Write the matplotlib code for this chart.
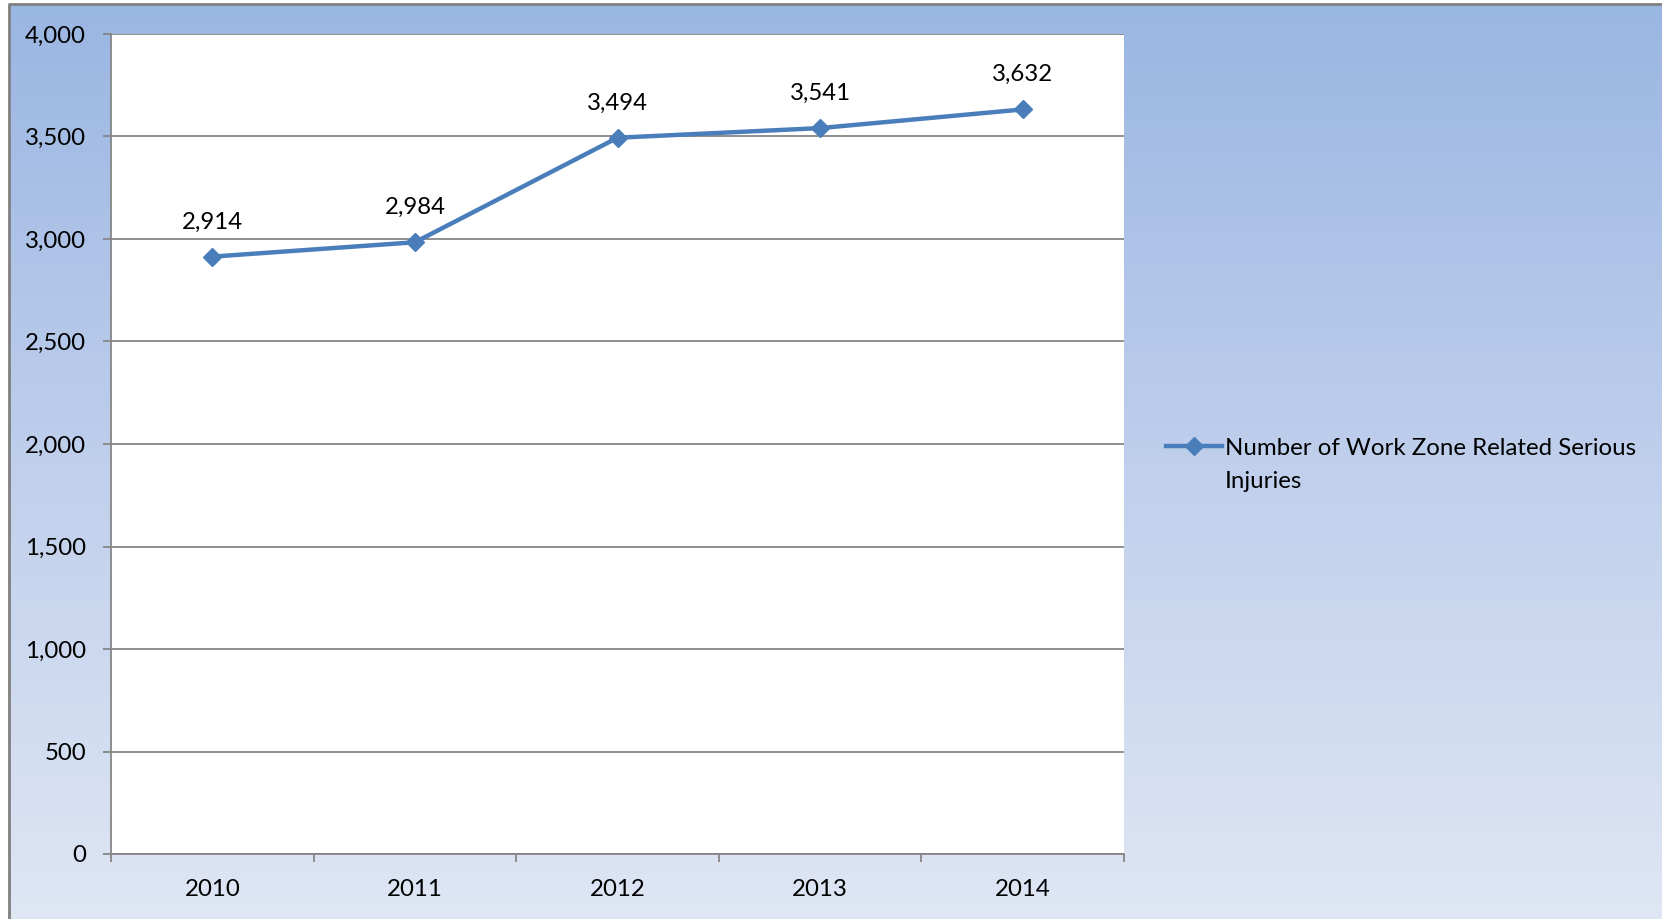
import matplotlib
matplotlib.use("Agg")
import matplotlib.pyplot as plt
import numpy as np
from matplotlib.ticker import FuncFormatter, FixedLocator
from matplotlib.colors import LinearSegmentedColormap

years = ["2010", "2011", "2012", "2013", "2014"]
injuries = [2914, 2984, 3494, 3541, 3632]
series_label = "Number of Work Zone Related Serious Injuries"

plt.rcParams['font.family'] = ['Lato', 'DejaVu Sans']
FS = 17.3

W, H = 1662, 919
fig = plt.figure(figsize=(W / 100, H / 100), dpi=100)

# background with gradient
bg = fig.add_axes([0, 0, 1, 1], zorder=0)
bg.axis('off')
cmap = LinearSegmentedColormap.from_list('g', ['#9AB6E2', '#BFCFEC', '#DFE6F4'])
grad = np.linspace(0, 1, 256).reshape(-1, 1)
bg.imshow(grad, cmap=cmap, extent=[9, W + 5, H, 4], aspect='auto', interpolation='bilinear')
bg.plot([9, 9, W + 5], [H + 5, 4, 4], color='#808080', lw=2, solid_capstyle='butt')
bg.set_xlim(0, W)
bg.set_ylim(H, 0)

L, R, T, B = 111, 1124, 34, 854
ax = fig.add_axes([L / W, (H - B) / H, (R - L) / W, (B - T) / H], zorder=1)
ax.set_facecolor('white')

x = np.arange(len(years))
line, = ax.plot(x, injuries, color='#4A7EBB', lw=3.2, marker='D', markersize=9,
                markerfacecolor='#4A7EBB', markeredgecolor='#4A7EBB', zorder=3,
                label=series_label)
for xi, v in zip(x, injuries):
    ax.annotate(f"{v:,}", (xi, v), xytext=(0, 25), textcoords='offset points',
                ha='center', va='center', fontsize=FS, color='black')

ax.set_xlim(-0.5, len(years) - 0.5)
ax.set_ylim(0, 4000)
ax.set_yticks(np.arange(0, 4001, 500))
ax.yaxis.set_major_formatter(FuncFormatter(lambda v, p: f"{int(v):,}"))
ax.grid(axis='y', color='#868686', lw=1.3)
ax.set_axisbelow(True)

ax.set_xticks(x)
ax.set_xticklabels(years)
ax.xaxis.set_minor_locator(FixedLocator(np.arange(-0.5, len(years), 1.0)))
ax.tick_params(axis='x', which='major', length=0, pad=18, labelsize=FS)
ax.tick_params(axis='x', which='minor', length=6, width=1.3, color='#868686', direction='out')
ax.tick_params(axis='y', which='major', length=6, width=1.3, color='#868686', pad=12, labelsize=FS)

for s in ['top', 'right']:
    ax.spines[s].set_visible(False)
for s in ['left', 'bottom']:
    ax.spines[s].set_color('#868686')
    ax.spines[s].set_linewidth(1.3)

first, second = series_label.rsplit(' ', 1)
leg = fig.legend(handles=[line], labels=[first], loc='center left',
                 bbox_to_anchor=(1166 / W, 1 - 448 / H), frameon=False,
                 fontsize=FS, handlelength=2.35, handletextpad=0.1,
                 borderpad=0, borderaxespad=0)
fig.canvas.draw()
tx = leg.get_texts()[0].get_window_extent().x0
fig.text(tx / W, 1 - 481 / H, second, fontsize=FS, ha='left', va='center')

fig.savefig('out.png', dpi=100)
